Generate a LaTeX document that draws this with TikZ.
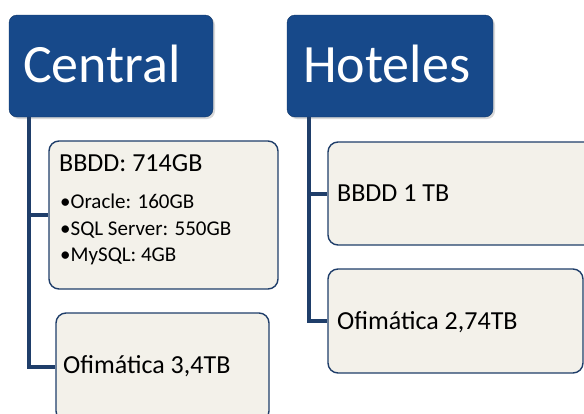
\documentclass[tikz,border=0pt]{standalone}
\usepackage{fontspec}
\setmainfont{Carlito}
\usetikzlibrary{positioning,shadows}
\definecolor{headblue}{RGB}{23,73,138}
\definecolor{linkblue}{RGB}{31,62,106}
\definecolor{cream}{RGB}{243,241,234}

\begin{document}
\begin{tikzpicture}[x=1pt,y=-1pt,
    headbox/.style={draw=headblue!75!black,fill=headblue,rounded corners=8pt,inner sep=0pt,
        minimum height=102pt,drop shadow={opacity=0.3,shadow xshift=2pt,shadow yshift=-2pt}},
    itembox/.style={draw=linkblue,line width=1.4pt,fill=cream,rounded corners=10pt,inner sep=0pt},
    link/.style={draw=linkblue,line width=4pt},
    headtext/.style={font=\fontsize{54}{54}\selectfont,text=white,anchor=base west,inner sep=0pt},
    itemtext/.style={font=\fontsize{26}{26}\selectfont,anchor=base west,inner sep=0pt},
    subtext/.style={font=\fontsize{21}{21}\selectfont,anchor=base west,inner sep=0pt}]

    \useasboundingbox (0,0) rectangle (584,413);

    % cabeceras
    \node[headbox,minimum width=204pt] (central) at (111,66) {};
    \node[headbox,minimum width=206pt] (hoteles) at (390,66) {};

    % cajas
    \node[itembox,minimum width=229pt,minimum height=148pt] (bbddc) at (163.5,215) {};
    \node[itembox,minimum width=213pt,minimum height=108pt] (ofic) at (162.5,367) {};
    \node[itembox,minimum width=270pt,minimum height=103pt] (bbddh) at (463,193.5) {};
    \node[itembox,minimum width=255pt,minimum height=104pt] (ofih) at (455.5,321) {};

    % conectores
    \coordinate (ctrunk) at ([xshift=20pt]central.south west);
    \coordinate (htrunk) at ([xshift=22pt]hoteles.south west);
    \draw[link] (ctrunk) |- (bbddc.west);
    \draw[link] (ctrunk) |- (ofic.west);
    \draw[link] (htrunk) |- (bbddh.west);
    \draw[link] (htrunk) |- (ofih.west);

    % textos
    \node[headtext] (tcentral) at (23,82) {Central};
    \node[headtext] (thoteles) at (303,82) {Hoteles};
    \node[itemtext] (tbbddc) at (59,171) {BBDD: 714GB};
    \node[subtext] (toracle) at (60,208) {•Oracle: 160GB};
    \node[subtext] (tsql) at (60,235) {•SQL Server: 550GB};
    \node[subtext] (tmysql) at (60,261) {•MySQL: 4GB};
    \node[itemtext] (tofic) at (63,373) {Ofimática 3,4TB};
    \node[itemtext] (tbbddh) at (337,201) {BBDD 1 TB};
    \node[itemtext] (tofih) at (337,329) {Ofimática 2,74TB};

\end{tikzpicture}
\end{document}
